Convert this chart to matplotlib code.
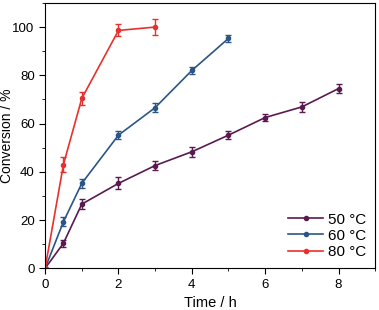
import matplotlib
matplotlib.use("Agg")
import matplotlib.pyplot as plt
from matplotlib.lines import Line2D
from matplotlib.ticker import MultipleLocator

plt.rcParams['font.family'] = ['Liberation Sans', 'DejaVu Sans']

t50 = [0, 0.5, 1, 2, 3, 4, 5, 6, 7, 8]
c50 = [0, 10.4, 26.6, 35.2, 42.6, 48.3, 55.2, 62.5, 66.9, 74.5]
e50 = [0, 1.5, 2.0, 2.5, 2.0, 2.0, 1.8, 1.5, 2.0, 2.0]

t60 = [0, 0.5, 1, 2, 3, 4, 5]
c60 = [0, 19.3, 35.2, 55.2, 66.6, 82.0, 95.3]
e60 = [0, 1.8, 2.0, 1.8, 1.8, 1.5, 1.5]

t80 = [0, 0.5, 1, 2, 3]
c80 = [0, 43.0, 70.4, 98.6, 100.0]
e80 = [0, 3.0, 2.5, 2.5, 3.3]

series = [
    ("50 °C", t50, c50, e50, "#5b1a4f"),
    ("60 °C", t60, c60, e60, "#2c5587"),
    ("80 °C", t80, c80, e80, "#e8312c"),
]

fig = plt.figure(figsize=(3.79, 3.10), dpi=100)
ax = fig.add_axes([0.119, 0.1345, 0.871, 0.856])

handles = []
for label, t, c, e, col in series:
    ax.errorbar(t, c, yerr=e, color=col, lw=1.2, marker="o", ms=3,
                capsize=2.5, elinewidth=1, capthick=1)
    handles.append(Line2D([], [], color=col, lw=1.2, marker="o", ms=3, label=label))

ax.set_xlim(0, 9)
ax.set_ylim(0, 110)
ax.xaxis.set_minor_locator(MultipleLocator(1))
ax.yaxis.set_minor_locator(MultipleLocator(10))
ax.tick_params(which="major", length=4, labelsize=9.5, direction="out")
ax.tick_params(which="minor", length=2, direction="out")
ax.set_xticks([0, 2, 4, 6, 8])
ax.set_yticks([0, 20, 40, 60, 80, 100])
ax.set_xlabel("Time / h", fontsize=10.5)
ax.set_ylabel("Conversion / %", fontsize=10)
ax.yaxis.set_label_coords(-0.093, 0.5)

ax.legend(handles=handles, loc="lower right", frameon=False, fontsize=11,
          handlelength=2.3, handletextpad=0.3, labelspacing=0.15,
          borderaxespad=0.2)

fig.savefig("out.png", dpi=100)
